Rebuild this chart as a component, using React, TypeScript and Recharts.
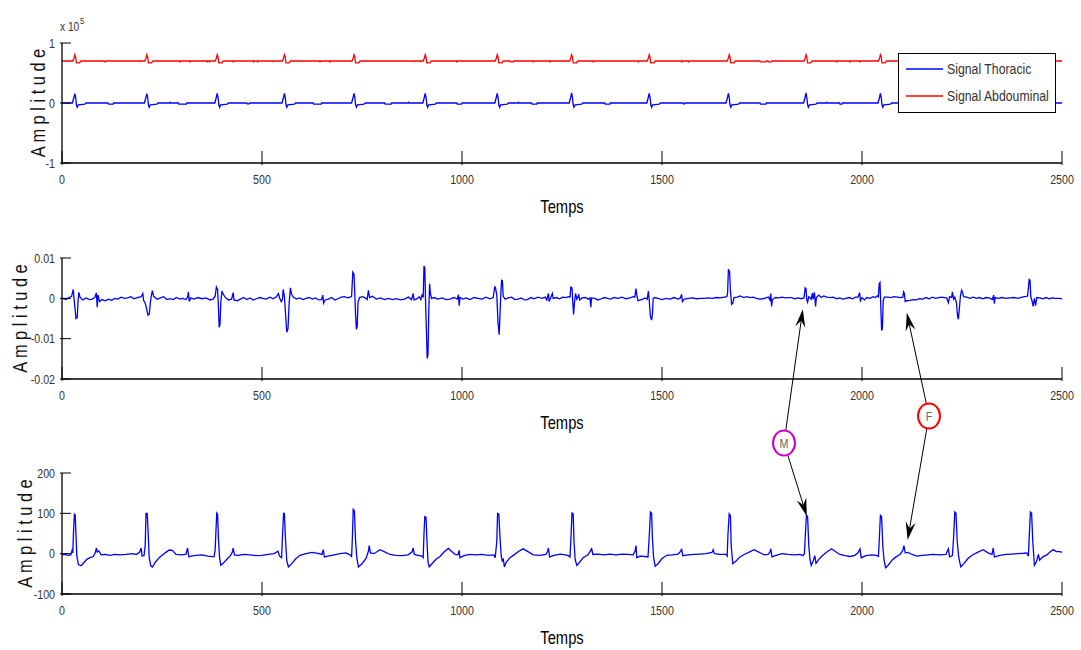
import { LineChart, Line, XAxis, YAxis, Legend } from "recharts";

type Pt = [number, number];

// sample index axis
const timeTicks = [0, 500, 1000, 1500, 2000, 2500];

// --- panel 1 : thoracic & abdominal raw signals (x 10^5)
const rawTicks = [-1, 0, 1];
const thoracicPts: Pt[] = [
  [0, 0], [26, 0], [30, 0.1], [32, 0.156], [34, 0.1], [36, -0.03], [38, -0.07], [41, -0.03], [57, -0.02], [60, 0],
  [115, 0], [116, -0.02], [128, -0.02], [129, 0],
  [206, 0], [210, 0.1], [212, 0.156], [214, 0.1], [216, -0.03], [218, -0.07], [221, -0.03], [237, -0.02], [240, 0],
  [269, 0], [270, 0.012], [272, 0], [291, 0], [292, -0.02], [311, -0.02], [312, 0],
  [382, 0], [386, 0.1], [388, 0.16], [390, 0.1], [392, -0.03], [394, -0.07], [397, -0.03], [413, -0.02], [416, 0],
  [462, 0], [463, -0.015], [468, -0.015], [469, 0],
  [550, 0], [554, 0.1], [556, 0.16], [558, 0.1], [560, -0.03], [562, -0.07], [565, -0.03], [581, -0.02], [584, 0],
  [628, 0], [629, -0.02], [648, -0.02], [649, 0],
  [724, 0], [728, 0.1], [730, 0.16], [732, 0.1], [734, -0.03], [736, -0.07], [739, -0.03], [755, -0.02], [758, 0],
  [807, 0], [808, -0.02], [823, -0.02], [824, 0], [865, 0], [866, 0.012], [868, 0],
  [902, 0], [906, 0.1], [908, 0.16], [910, 0.1], [912, -0.03], [914, -0.07], [917, -0.03], [933, -0.02], [936, 0],
  [987, 0], [988, -0.02], [999, -0.02], [1000, 0],
  [1082, 0], [1086, 0.1], [1088, 0.16], [1090, 0.1], [1092, -0.03], [1094, -0.07], [1097, -0.03], [1113, -0.02], [1116, 0],
  [1140, 0], [1141, 0.012], [1143, 0], [1174, 0], [1175, -0.02], [1187, -0.02], [1188, 0],
  [1268, 0], [1272, 0.1], [1274, 0.17], [1276, 0.1], [1278, -0.03], [1280, -0.07], [1283, -0.03], [1299, -0.02], [1302, 0],
  [1357, 0], [1358, -0.02], [1370, -0.02], [1371, 0],
  [1462, 0], [1466, 0.1], [1468, 0.16], [1470, 0.1], [1472, -0.03], [1474, -0.07], [1477, -0.03], [1493, -0.02], [1496, 0],
  [1552, 0], [1553, -0.015], [1556, -0.015], [1557, 0],
  [1660, 0], [1664, 0.1], [1666, 0.16], [1668, 0.1], [1670, -0.03], [1672, -0.07], [1675, -0.03], [1691, -0.02], [1694, 0],
  [1745, 0], [1746, -0.02], [1760, -0.02], [1761, 0],
  [1854, 0], [1858, 0.1], [1860, 0.17], [1862, 0.1], [1864, -0.03], [1866, -0.07], [1869, -0.03], [1885, -0.02], [1888, 0],
  [1911, 0], [1912, 0.012], [1914, 0], [1944, 0], [1945, -0.02], [1950, -0.02], [1951, 0],
  [2040, 0], [2044, 0.1], [2046, 0.16], [2048, 0.1], [2050, -0.03], [2052, -0.07], [2055, -0.03], [2071, -0.02], [2074, 0],
  [2230, 0], [2234, 0.1], [2236, 0.16], [2238, 0.1], [2240, -0.03], [2242, -0.07], [2245, -0.03], [2261, -0.02], [2264, 0],
  [2418, 0], [2422, 0.1], [2424, 0.16], [2426, 0.1], [2428, -0.03], [2430, -0.07], [2433, -0.03], [2449, -0.02], [2452, 0],
  [2500, 0],
];
const abdominalRawPts: Pt[] = [
  [0, 0.7], [27, 0.7], [30, 0.75], [32, 0.805], [34, 0.77], [36, 0.67], [44, 0.67], [47, 0.7],
  [105, 0.7], [106, 0.685], [108, 0.685], [109, 0.7],
  [194, 0.7], [195, 0.69], [197, 0.7], [207, 0.7], [210, 0.75], [212, 0.805], [214, 0.77], [216, 0.67], [224, 0.67], [227, 0.7],
  [294, 0.7], [295, 0.685], [297, 0.7], [319, 0.7], [320, 0.685], [322, 0.7],
  [362, 0.7], [363, 0.685], [365, 0.7], [368, 0.7], [369, 0.685], [371, 0.7],
  [383, 0.7], [386, 0.75], [388, 0.805], [390, 0.77], [392, 0.67], [400, 0.67], [403, 0.7],
  [427, 0.7], [428, 0.685], [430, 0.7], [478, 0.7], [479, 0.685], [481, 0.7], [488, 0.7], [489, 0.685], [491, 0.7],
  [527, 0.7], [528, 0.69], [530, 0.7],
  [551, 0.7], [554, 0.75], [556, 0.805], [558, 0.77], [560, 0.67], [568, 0.67], [571, 0.7],
  [644, 0.7], [645, 0.685], [647, 0.7], [669, 0.7], [670, 0.685], [672, 0.7],
  [725, 0.7], [728, 0.75], [730, 0.805], [732, 0.77], [734, 0.67], [742, 0.67], [745, 0.7],
  [880, 0.7], [881, 0.69], [884, 0.7], [896, 0.7], [897, 0.69], [899, 0.7],
  [903, 0.7], [906, 0.75], [908, 0.805], [910, 0.77], [912, 0.67], [920, 0.67], [923, 0.7],
  [986, 0.7], [987, 0.685], [989, 0.7],
  [1083, 0.7], [1086, 0.75], [1088, 0.805], [1090, 0.77], [1092, 0.67], [1100, 0.67], [1103, 0.7],
  [1120, 0.7], [1121, 0.685], [1128, 0.685], [1129, 0.7], [1177, 0.7], [1178, 0.685], [1180, 0.7], [1219, 0.7], [1220, 0.685], [1222, 0.7],
  [1269, 0.7], [1272, 0.75], [1274, 0.805], [1276, 0.77], [1278, 0.67], [1286, 0.67], [1289, 0.7],
  [1327, 0.7], [1328, 0.685], [1330, 0.7], [1440, 0.7], [1441, 0.685], [1443, 0.7],
  [1463, 0.7], [1466, 0.75], [1468, 0.805], [1470, 0.77], [1472, 0.67], [1480, 0.67], [1483, 0.7],
  [1548, 0.7], [1549, 0.685], [1551, 0.7], [1565, 0.7], [1566, 0.685], [1568, 0.7],
  [1663, 0.7], [1666, 0.75], [1668, 0.805], [1670, 0.77], [1672, 0.67], [1680, 0.67], [1683, 0.7],
  [1745, 0.7], [1746, 0.685], [1760, 0.685], [1761, 0.7], [1765, 0.7], [1766, 0.685], [1774, 0.685], [1775, 0.7],
  [1855, 0.7], [1858, 0.75], [1860, 0.805], [1862, 0.77], [1864, 0.67], [1872, 0.67], [1875, 0.7],
  [1936, 0.7], [1937, 0.685], [1939, 0.7], [1969, 0.7], [1970, 0.685], [1972, 0.7], [1994, 0.7], [1995, 0.685], [1997, 0.7],
  [2041, 0.7], [2044, 0.75], [2046, 0.805], [2048, 0.77], [2050, 0.67], [2058, 0.67], [2061, 0.7],
  [2231, 0.7], [2234, 0.75], [2236, 0.805], [2238, 0.77], [2240, 0.67], [2248, 0.67], [2251, 0.7],
  [2419, 0.7], [2422, 0.75], [2424, 0.805], [2426, 0.77], [2428, 0.67], [2436, 0.67], [2439, 0.7],
  [2500, 0.7],
];

// --- panel 2 : extracted result signal
const resultTicks = [-0.02, -0.01, 0, 0.01];
const resultPts: Pt[] = [
  [0, 0], [10, -0.0003], [18, 0.0002], [24, 0.0005], [28, 0.0022], [32, -0.002], [35, -0.005], [38, -0.0048], [40, -0.001], [42, 0.0015], [45, 0.0003],
  [52, -0.0004], [60, 0.0001], [68, -0.0003], [75, -0.0002], [82, 0.0002], [86, 0.0014], [88, -0.0022], [90, 0.0008], [94, -0.0008],
  [100, -0.0003], [108, -0.0006], [116, -0.0002], [124, -0.0005], [132, 0], [140, -0.0002], [148, 0.0003], [156, 0], [164, 0.0001],
  [172, 0.0004], [180, -0.0001], [188, 0.0002], [198, 0.0004], [202, 0.0012], [204, -0.0005], [208, -0.0012], [212, -0.0028],
  [215, -0.0042], [218, -0.004], [221, -0.001], [223, 0.0005], [226, 0.0019], [229, 0.0005], [238, -0.0002], [246, 0.0001],
  [254, 0.0004], [262, -0.0003], [270, -0.0001], [278, -0.0003], [286, 0.0002], [294, -0.0002], [302, 0], [310, -0.0003],
  [314, 0.0003], [316, 0.0016], [318, -0.0008], [322, 0.0001], [330, -0.0002], [340, 0.0002], [350, -0.0001], [360, 0.0001],
  [370, -0.0004], [378, -0.0002], [383, 0.0006], [386, 0.0028], [389, 0.0022], [391, -0.002], [393, -0.0072], [395, -0.0065],
  [397, -0.001], [400, 0.0018], [403, 0.001], [408, 0.0003], [416, -0.0004], [424, -0.0002], [428, 0.0014], [430, -0.0004],
  [438, -0.0006], [446, -0.0002], [454, 0.0002], [462, -0.0003], [470, 0.0001], [478, -0.0004], [486, -0.0001], [494, 0.0002],
  [502, 0], [510, -0.0002], [520, 0.0003], [528, -0.0001], [536, 0.0004], [541, 0.0012], [544, 0.0001], [548, -0.0008],
  [551, -0.0003], [553, 0.0022], [556, 0.0005], [559, -0.004], [562, -0.0084], [565, -0.0075], [568, -0.001], [571, 0.0026],
  [574, 0.001], [578, 0.0003], [586, -0.0002], [594, 0.0001], [602, -0.0003], [610, 0], [618, 0.0002], [626, -0.0002],
  [634, 0.0001], [642, -0.0004], [649, -0.0003], [652, 0.0008], [654, -0.0012], [658, -0.0004], [666, -0.0002], [674, 0.0002],
  [682, -0.0004], [690, -0.0001], [698, 0.0003], [706, 0.0004], [714, 0.0001], [720, 0.0003], [724, 0.0005], [727, 0.0065],
  [730, 0.006], [732, 0.001], [734, -0.004], [736, -0.0077], [738, -0.007], [740, -0.001], [744, 0.0002], [752, 0.0004],
  [760, 0], [763, -0.0003], [766, 0.002], [769, 0.0002], [776, 0.0005], [786, -0.0002], [796, 0.0001], [806, -0.0003],
  [816, 0], [826, -0.0003], [836, -0.0001], [846, -0.0004], [856, -0.0002], [866, 0.0003], [874, -0.0003], [878, 0.0012],
  [880, -0.0004], [886, -0.0002], [893, 0.0004], [897, -0.0003], [900, 0.0008], [903, 0.0002], [905, 0.008], [907, 0.0076],
  [909, -0.001], [911, -0.008], [913, -0.0149], [915, -0.014], [917, -0.003], [919, 0.0036], [921, 0.0012], [924, 0],
  [930, 0.0002], [940, -0.0002], [950, 0.0001], [960, -0.0003], [970, -0.0002], [980, 0.0002], [988, -0.0002], [991, 0.0009],
  [993, -0.0018], [995, 0.0002], [1002, -0.0002], [1010, 0.0001], [1020, -0.0003], [1030, 0.0002], [1040, 0], [1050, -0.0002],
  [1060, 0.0003], [1070, -0.0001], [1078, 0.0002], [1082, 0.003], [1084, 0.0024], [1087, 0.0008], [1090, -0.006],
  [1093, -0.009], [1095, -0.004], [1097, 0.001], [1099, 0.0045], [1101, 0.0044], [1103, 0.0005], [1108, -0.0002],
  [1116, 0.0001], [1124, 0.0003], [1132, -0.0003], [1140, -0.0002], [1148, 0.0001], [1156, -0.0004], [1164, -0.0003],
  [1172, 0.0002], [1180, -0.0001], [1190, 0.0003], [1200, 0], [1208, 0.0003], [1212, -0.0004], [1216, 0.0012],
  [1218, -0.0008], [1222, 0.0002], [1226, 0.0012], [1228, 0], [1236, 0.0002], [1244, -0.0001], [1252, 0.0003],
  [1260, 0.0002], [1266, 0.0004], [1270, 0.0003], [1272, 0.0028], [1275, 0.0026], [1277, -0.001], [1279, -0.004],
  [1281, -0.0012], [1284, 0.0012], [1287, -0.0002], [1292, 0.0008], [1294, -0.0004], [1300, 0.0001], [1308, 0.0002],
  [1316, -0.0002], [1320, 0.0001], [1322, -0.0022], [1324, 0.0001], [1332, 0], [1340, -0.0004], [1348, -0.0001],
  [1356, 0.0002], [1364, 0], [1372, -0.0002], [1380, 0.0002], [1390, 0], [1400, 0.0003], [1410, -0.0001], [1420, 0.0001],
  [1428, 0.0004], [1432, 0.0003], [1435, 0.0024], [1437, 0.0008], [1440, -0.0006], [1446, -0.0004], [1452, -0.0002],
  [1458, 0.0001], [1463, -0.0002], [1466, 0.0018], [1468, -0.0004], [1471, -0.0045], [1474, -0.0054], [1476, -0.004],
  [1478, 0], [1482, 0.0002], [1490, 0], [1500, -0.0003], [1510, 0], [1520, -0.0002], [1530, 0.0002], [1540, -0.0002],
  [1546, 0.0001], [1549, 0.001], [1551, -0.0008], [1556, -0.0002], [1566, 0], [1576, 0.0001], [1586, -0.0001], [1596, 0],
  [1606, 0], [1616, 0.0001], [1626, 0], [1636, 0.0002], [1646, 0.0001], [1656, 0.0003], [1662, 0.0004], [1664, 0.0012],
  [1666, 0.0072], [1669, 0.0066], [1671, 0.002], [1674, -0.0015], [1677, -0.0012], [1680, 0.0002], [1688, 0.0003],
  [1696, 0.0006], [1704, 0.0002], [1712, 0.0004], [1720, 0.0002], [1728, 0.0003], [1736, 0], [1744, -0.0002],
  [1752, -0.0001], [1760, 0.0001], [1766, 0.0003], [1770, -0.0004], [1772, 0.0012], [1774, -0.002], [1776, -0.0003],
  [1784, 0.0002], [1792, 0.0001], [1800, 0.0003], [1808, 0.0001], [1816, 0.0002], [1824, 0.0002], [1832, -0.0001],
  [1840, 0.0001], [1848, -0.0001], [1855, 0.0001], [1858, 0.0026], [1860, 0.0024], [1862, -0.0004], [1864, -0.001],
  [1867, 0.0004], [1870, 0.0002], [1873, -0.0002], [1876, 0.0013], [1878, -0.0002], [1881, 0.0015], [1884, -0.002],
  [1886, 0.0002], [1892, 0.0008], [1898, 0.0002], [1904, 0.0006], [1912, 0.0003], [1920, 0.0002], [1928, 0.0003],
  [1936, -0.0001], [1944, 0.0001], [1952, -0.0002], [1960, 0], [1968, 0.0002], [1976, -0.0001], [1984, 0.0003],
  [1990, 0.0003], [1994, 0.0014], [1996, -0.0006], [2000, 0.0002], [2006, -0.0004], [2012, 0.0002], [2020, 0],
  [2028, 0.0004], [2034, 0.0002], [2038, 0.0006], [2041, 0.0004], [2043, 0.0036], [2045, 0.0039], [2047, -0.002],
  [2049, -0.008], [2051, -0.0075], [2053, -0.0005], [2056, 0.0003], [2064, 0.0003], [2072, 0.0002], [2080, 0.0004],
  [2088, 0.0003], [2096, 0.0002], [2102, 0.0003], [2104, 0.0016], [2106, 0.0012], [2108, -0.0008], [2112, -0.0006],
  [2120, -0.0005], [2128, -0.0003], [2136, -0.0004], [2144, -0.0001], [2152, -0.0002], [2160, 0.0002], [2168, -0.0001],
  [2176, 0.0003], [2184, 0], [2192, 0.0002], [2200, 0.0003], [2208, 0.0001], [2212, 0.0001], [2216, -0.0011],
  [2219, 0.0004], [2224, 0.0002], [2226, 0.0016], [2229, -0.0002], [2232, 0.0003], [2236, -0.001], [2239, -0.0045],
  [2241, -0.0052], [2243, -0.003], [2246, 0.0005], [2249, 0.002], [2251, 0.0016], [2254, 0.0004], [2262, 0.0003],
  [2270, 0], [2278, 0.0003], [2286, 0], [2294, 0.0002], [2302, -0.0001], [2310, 0.0002], [2318, 0.0001], [2326, -0.0003],
  [2329, 0.0008], [2331, -0.0013], [2333, 0.0002], [2340, 0], [2350, 0.0002], [2360, 0], [2370, 0.0001], [2380, 0.0002],
  [2390, 0], [2400, 0.0003], [2410, 0.0005], [2414, 0.0006], [2418, 0.0047], [2420, 0.0045], [2422, 0.0004],
  [2425, -0.0006], [2428, -0.002], [2431, 0], [2434, -0.0018], [2437, 0.0002], [2444, 0.0001], [2452, -0.0001],
  [2460, 0.0002], [2468, -0.0001], [2476, 0.0001], [2484, 0], [2492, 0], [2500, -0.0001],
];

// --- panel 3 : abdominal signal
const abdoTicks = [-100, 0, 100, 200];
const abdominalPts: Pt[] = [
  [0, -3], [8, -2], [16, -4], [22, -3], [25, 8], [27, 2], [29, 60], [31, 98], [33, 96], [35, 45], [37, -5], [41, -27], [48, -30],
  [55, -22], [62, -14], [70, -10], [78, -7], [83, 2], [86, 14], [88, 4], [92, 7], [98, -3], [108, -2], [120, -4], [132, -2],
  [145, -3], [160, -2], [175, 0], [186, -2], [194, 4], [198, 14], [200, -6], [205, -5], [208, 20], [210, 100], [213, 100],
  [215, 60], [218, -10], [222, -30], [226, -33], [234, -20], [245, -8], [258, 2], [268, 9], [276, 8], [285, -2], [300, -3],
  [310, -1], [314, 14], [317, -8], [322, -6], [335, -4], [350, -3], [365, -6], [380, -8], [383, 10], [385, 60], [387, 101],
  [389, 98], [391, 40], [394, -10], [397, -29], [403, -24], [412, -14], [420, -6], [426, 4], [428, 14], [431, -3], [440, -4],
  [455, -2], [470, -3], [485, -5], [500, -4], [515, -2], [530, 0], [540, 6], [544, -6], [549, -10], [551, 40], [554, 100],
  [556, 99], [559, 30], [562, -18], [566, -33], [575, -24], [585, -12], [595, -4], [610, 0], [625, 3], [640, 1], [650, -2],
  [653, 10], [656, -8], [665, -6], [680, -3], [695, 0], [710, 2], [720, -3], [724, -7], [726, 40], [728, 110], [731, 106],
  [734, 30], [737, -10], [741, -33], [750, -25], [760, -12], [766, 6], [768, 20], [771, 2], [780, 0], [795, 10], [808, 4],
  [820, -2], [835, -4], [850, -5], [865, -3], [875, 4], [878, 14], [881, -2], [890, -4], [900, -6], [903, -10], [905, 50],
  [907, 92], [910, 90], [913, 20], [915, -20], [918, -33], [925, -25], [935, -14], [945, -7], [955, 4], [966, 13], [975, 5],
  [983, -2], [990, -3], [993, 8], [995, -10], [1005, -5], [1020, -2], [1035, -3], [1050, -2], [1065, -4], [1080, -3],
  [1083, -10], [1087, 30], [1089, 100], [1092, 98], [1095, 40], [1098, -5], [1101, -20], [1103, -12], [1106, -33],
  [1110, -22], [1120, -10], [1130, -3], [1142, 6], [1153, 12], [1165, 5], [1178, -3], [1195, -4], [1210, -2], [1214, 6],
  [1216, 14], [1219, -8], [1230, -4], [1245, -1], [1258, -3], [1266, -5], [1270, -8], [1272, 30], [1275, 101], [1278, 98],
  [1280, 30], [1283, -15], [1287, -29], [1295, -20], [1303, -10], [1315, -3], [1322, 8], [1324, 14], [1327, -2], [1340, -1],
  [1355, -3], [1370, -1], [1385, -3], [1400, -1], [1415, -2], [1428, -3], [1433, 8], [1435, 20], [1437, -10], [1445, -6],
  [1458, -7], [1465, -8], [1468, 40], [1471, 103], [1474, 100], [1476, 40], [1479, -10], [1483, -31], [1490, -25],
  [1500, -12], [1512, -4], [1525, -3], [1540, -1], [1547, 6], [1549, 12], [1552, -5], [1565, -3], [1580, -2], [1595, -1],
  [1610, 0], [1625, 3], [1628, 10], [1631, 0], [1645, -2], [1660, -2], [1663, -6], [1665, 50], [1668, 99], [1671, 95],
  [1673, 20], [1677, -25], [1685, -18], [1695, -8], [1705, -2], [1718, 4], [1730, 10], [1742, 4], [1755, -3], [1765, -2],
  [1770, 4], [1772, 12], [1775, -8], [1785, -4], [1800, 0], [1815, -2], [1830, -3], [1845, -2], [1852, -5], [1856, 0],
  [1858, 40], [1861, 95], [1864, 92], [1867, 20], [1870, -15], [1873, -29], [1878, -18], [1882, -5], [1885, -24],
  [1892, -14], [1900, -6], [1912, 4], [1924, 12], [1935, 4], [1945, -2], [1958, -5], [1970, -7], [1982, -4], [1990, 2],
  [1995, 12], [1998, -10], [2010, -5], [2025, -3], [2035, -4], [2041, -7], [2043, 30], [2046, 95], [2049, 92], [2052, 20],
  [2055, -15], [2059, -35], [2066, -28], [2075, -16], [2085, -8], [2095, -2], [2102, 8], [2105, 20], [2108, 2], [2115, 3],
  [2125, -2], [2137, -6], [2150, -4], [2165, -3], [2178, -2], [2195, -3], [2210, -2], [2213, 6], [2216, 12], [2219, -8],
  [2226, -5], [2229, 40], [2232, 103], [2235, 100], [2238, 30], [2242, -10], [2247, -33], [2255, -24], [2265, -12],
  [2275, -4], [2290, 4], [2303, 10], [2315, 2], [2325, -2], [2328, 14], [2331, -8], [2345, -4], [2360, -2], [2375, -1],
  [2390, 0], [2405, 1], [2412, 2], [2416, -6], [2418, 40], [2421, 103], [2424, 100], [2427, 30], [2431, -29], [2436, -20],
  [2441, -2], [2444, -16], [2452, -8], [2462, -3], [2470, 4], [2478, 10], [2486, 5], [2495, 5], [2500, 3],
];

// arrow targets for the M (maternal) and F (fetal) marks: [time, amplitude]
const maternalOnResult: Pt = [1852, -0.0027];
const maternalOnAbdo: Pt = [1862, 93];
const fetalOnResult: Pt = [2112, -0.0036];
const fetalOnAbdo: Pt = [2114, 34];

const FONT = "'Liberation Sans', Arial, sans-serif";
const TEXT = "#333";
const NARROW = 0.82; // horizontal squeeze, gives the condensed Helvetica look
const X_MAX = 2500;
const PLOT_L = 62;
const PLOT_W = 1000;
const TICK = 14;
const AXIS_H = 62;

const rows = (pts: Pt[]) => pts.map(([t, v]) => ({ t, v }));

// text squeezed horizontally around its anchor point
function NText({
  x,
  y,
  size,
  anchor = "start",
  fill = TEXT,
  rotate = 0,
  children,
}: {
  x: number;
  y: number;
  size: number;
  anchor?: "start" | "middle" | "end";
  fill?: string;
  rotate?: number;
  children: any;
}) {
  return (
    <text
      transform={`translate(${x}, ${y}) rotate(${rotate}) scale(${NARROW}, 1)`}
      textAnchor={anchor}
      fontSize={size}
      fill={fill}
      fontFamily={FONT}
      style={{ whiteSpace: "pre" }}
    >
      {children}
    </text>
  );
}

interface Series {
  name: string;
  color: string;
  pts: Pt[];
}

interface PanelDef {
  top: number;
  h: number;
  title: string;
  domain: [number, number];
  ticks: number[];
  labelX: number;
}

const panels: PanelDef[] = [
  { top: 43, h: 120, title: "les signaux thoracic et abdouminal", domain: [-1, 1], ticks: rawTicks, labelX: 45 },
  { top: 258, h: 121, title: "Signal de résultat obtenu", domain: [-0.02, 0.01], ticks: resultTicks, labelX: 27 },
  { top: 473, h: 121, title: "signal abdouminal", domain: [-100, 200], ticks: abdoTicks, labelX: 32 },
];

const px = (t: number) => PLOT_L + (t / X_MAX) * PLOT_W;
const py = (p: PanelDef, v: number) => p.top + ((p.domain[1] - v) / (p.domain[1] - p.domain[0])) * p.h;

const BottomTick = ({ x, y, payload }: any) => (
  <g>
    <line x1={x} y1={y} x2={x} y2={y - TICK} stroke="#000" />
    <NText x={x} y={y + 19} size={13} anchor="middle">
      {String(payload.value)}
    </NText>
  </g>
);
const TopTick = ({ x, y }: any) => <line x1={x} y1={y} x2={x} y2={y + TICK} stroke="#000" />;
const LeftTick = ({ x, y, payload }: any) => (
  <g>
    <line x1={x} y1={y} x2={x + 11} y2={y} stroke="#000" />
    <NText x={x - 5} y={y + 4.5} size={13} anchor="end">
      {String(payload.value)}
    </NText>
  </g>
);
const RightTick = ({ x, y }: any) => <line x1={x} y1={y} x2={x - 11} y2={y} stroke="#000" />;

function LegendBox({ series }: { series: Series[] }) {
  return (
    <svg width={158} height={60} style={{ display: "block" }}>
      <rect x={0.5} y={0.5} width={157} height={59} fill="#fff" stroke="#000" />
      {series.map((s, i) => (
        <g key={s.name}>
          <line x1={8} x2={45} y1={16 + i * 27} y2={16 + i * 27} stroke={s.color} strokeWidth={1.3} />
          <NText x={49} y={21 + i * 27} size={15}>
            {s.name}
          </NText>
        </g>
      ))}
    </svg>
  );
}

function Panel({ def, series, withLegend, exponent }: { def: PanelDef; series: Series[]; withLegend?: boolean; exponent?: boolean }) {
  const chartTop = def.top - 43;
  const height = 43 + def.h + AXIS_H;
  const cx = PLOT_L + PLOT_W / 2;
  return (
    <div style={{ position: "absolute", left: 0, top: chartTop }}>
      <LineChart width={1081} height={height} margin={{ top: 43, right: 19, bottom: 0, left: 0 }}>
        <XAxis
          dataKey="t"
          type="number"
          domain={[0, X_MAX]}
          ticks={timeTicks}
          interval={0}
          height={AXIS_H}
          tickSize={0}
          tickLine={false}
          tick={<BottomTick />}
          axisLine={{ stroke: "#000", strokeWidth: 1.3 }}
          label={{
            content: () => (
              <NText x={cx} y={43 + def.h + 50} size={18} anchor="middle" fill="#000">
                Temps
              </NText>
            ),
          }}
        />
        <XAxis
          xAxisId="top"
          orientation="top"
          dataKey="t"
          type="number"
          domain={[0, X_MAX]}
          ticks={timeTicks}
          interval={0}
          height={0}
          tickSize={0}
          tickLine={false}
          tick={<TopTick />}
          axisLine={{ stroke: "#000", strokeWidth: 1.3 }}
          label={{
            content: () => (
              <NText x={cx} y={26} size={18} anchor="middle" fill="#111">
                {def.title}
              </NText>
            ),
          }}
        />
        <YAxis
          type="number"
          domain={def.domain}
          ticks={def.ticks}
          interval={0}
          width={PLOT_L}
          tickSize={0}
          tickLine={false}
          tick={<LeftTick />}
          axisLine={{ stroke: "#000", strokeWidth: 1.3 }}
          allowDataOverflow
          label={{
            content: () => (
              <g>
                <NText x={def.labelX} y={43 + def.h / 2} size={20} anchor="middle" fill="#111" rotate={-90}>
                  A m p l i t u d e
                </NText>
                {exponent && (
                  <text x={60} y={31} fontSize={12} fill={TEXT} fontFamily={FONT} transform="translate(60 0) scale(0.85 1) translate(-60 0)">
                    x 10
                    <tspan dx={1} dy={-7} fontSize={9}>
                      5
                    </tspan>
                  </text>
                )}
              </g>
            ),
          }}
        />
        <YAxis
          yAxisId="right"
          orientation="right"
          type="number"
          domain={def.domain}
          ticks={def.ticks}
          interval={0}
          width={0}
          tickSize={0}
          tickLine={false}
          tick={<RightTick />}
          axisLine={{ stroke: "#000", strokeWidth: 1.3 }}
        />
        {series.map((s) => (
          <Line
            key={s.name}
            name={s.name}
            data={rows(s.pts)}
            dataKey="v"
            type="linear"
            stroke={s.color}
            strokeWidth={1.3}
            dot={false}
            activeDot={false}
            legendType="line"
            isAnimationActive={false}
          />
        ))}
        {withLegend && (
          <Legend
            layout="horizontal"
            align="center"
            verticalAlign="middle"
            content={() => <LegendBox series={series} />}
            wrapperStyle={{ left: 898, top: 53, width: 158, height: 60 }}
          />
        )}
      </LineChart>
    </div>
  );
}

function Circle({ cx, cy, color, text }: { cx: number; cy: number; color: string; text: string }) {
  return (
    <g>
      <ellipse cx={cx} cy={cy} rx={11} ry={12.5} fill="#fff" stroke={color} strokeWidth={2} />
      <NText x={cx} y={cy + 4.5} size={13} anchor="middle" fill="#666">
        {text}
      </NText>
    </g>
  );
}

// straight arrow from the edge of a mark circle to a point on a trace
function Arrow({ from, to }: { from: [number, number]; to: [number, number] }) {
  const dx = to[0] - from[0];
  const dy = to[1] - from[1];
  const len = Math.hypot(dx, dy);
  const ux = dx / len;
  const uy = dy / len;
  const sx = from[0] + ux * 13;
  const sy = from[1] + uy * 13;
  const L = 18;
  const W = 5;
  const bx = to[0] - ux * L;
  const by = to[1] - uy * L;
  const nx = to[0] - ux * L * 0.65;
  const ny = to[1] - uy * L * 0.65;
  const head = `${to[0]},${to[1]} ${bx - uy * W},${by + ux * W} ${nx},${ny} ${bx + uy * W},${by - ux * W}`;
  return (
    <g>
      <line x1={sx} y1={sy} x2={nx} y2={ny} stroke="#000" strokeWidth={1} />
      <polygon points={head} fill="#000" />
    </g>
  );
}

export default function App() {
  const [p1, p2, p3] = panels;
  const mCenter: [number, number] = [784, 443];
  const fCenter: [number, number] = [929, 416];
  return (
    <div style={{ position: "absolute", left: 0, top: 0, width: 1081, height: 650, background: "#fff", overflow: "hidden" }}>
      <Panel
        def={p1}
        withLegend
        exponent
        series={[
          { name: "Signal Thoracic", color: "#0000ff", pts: thoracicPts },
          { name: "Signal Abdouminal", color: "#ff0000", pts: abdominalRawPts },
        ]}
      />
      <Panel def={p2} series={[{ name: "résultat", color: "#0000ff", pts: resultPts }]} />
      <Panel def={p3} series={[{ name: "abdominal", color: "#0000ff", pts: abdominalPts }]} />
      <svg width={1081} height={650} style={{ position: "absolute", left: 0, top: 0, pointerEvents: "none" }}>
        <Arrow from={mCenter} to={[px(maternalOnResult[0]), py(p2, maternalOnResult[1])]} />
        <Arrow from={mCenter} to={[px(maternalOnAbdo[0]), py(p3, maternalOnAbdo[1])]} />
        <Arrow from={fCenter} to={[px(fetalOnResult[0]), py(p2, fetalOnResult[1])]} />
        <Arrow from={fCenter} to={[px(fetalOnAbdo[0]), py(p3, fetalOnAbdo[1])]} />
        <Circle cx={mCenter[0]} cy={mCenter[1]} color="#cc00cc" text="M" />
        <Circle cx={fCenter[0]} cy={fCenter[1]} color="#ff0000" text="F" />
      </svg>
    </div>
  );
}
